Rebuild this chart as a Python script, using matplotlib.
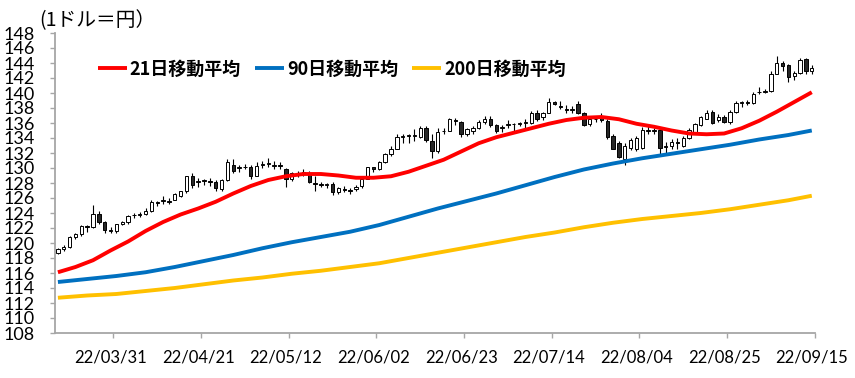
import matplotlib
matplotlib.use("Agg")
import matplotlib.pyplot as plt
from matplotlib.font_manager import FontProperties
import numpy as np
import pandas as pd

# ---------------------------------------------------------------------------
# Data: USD/JPY daily candles
# ---------------------------------------------------------------------------
dates = pd.bdate_range("2022-03-18", "2022-09-15")

opens = [118.7, 119.2, 119.5, 120.8, 121.2, 122.3, 122.1, 123.9, 122.8, 121.6,
         121.6, 122.5, 122.8, 123.7, 123.8, 123.9, 124.3, 125.4, 125.6, 125.6,
         125.8, 126.3, 126.9, 128.9, 128.2, 128.3, 128.3, 128.2, 127.2, 128.4,
         130.4, 130.0, 130.1, 130.2, 129.0, 130.4, 130.6, 130.3, 130.4, 129.8,
         128.5, 129.3, 129.3, 129.4, 128.0, 127.9, 127.8, 127.9, 126.8, 127.2,
         127.1, 127.2, 127.6, 128.6, 130.1, 129.8, 130.8, 131.8, 132.6, 134.2,
         134.3, 134.3, 134.1, 135.3, 133.6, 132.3, 134.9, 135.0, 136.4, 136.2,
         134.6, 134.9, 135.4, 136.1, 136.6, 135.7, 135.4, 135.7, 135.8, 135.9,
         136.0, 136.0, 137.3, 136.8, 137.4, 138.8, 138.3, 137.9, 137.8, 138.5,
         137.3, 135.8, 136.5, 136.7, 136.3, 134.3, 133.3, 131.2, 132.7, 132.6,
         132.7, 135.0, 135.0, 135.1, 132.8, 133.0, 133.4, 133.0, 134.0, 134.8,
         135.7, 136.6, 137.5, 136.4, 136.8, 136.1, 137.5, 138.7, 138.8, 138.7,
         140.1, 140.2, 140.3, 142.6, 144.0, 143.7, 142.3, 142.7, 144.5, 142.9]
highs = [119.4, 119.7, 121.0, 121.4, 122.4, 122.4, 125.1, 124.3, 123.0, 122.2,
         122.6, 123.0, 123.7, 124.0, 124.1, 124.7, 125.8, 125.6, 126.3, 126.0,
         126.7, 127.0, 129.0, 129.4, 128.7, 128.6, 128.7, 128.4, 128.5, 131.2,
         131.2, 130.4, 130.5, 130.4, 130.8, 131.0, 131.3, 130.9, 130.8, 130.0,
         129.5, 129.6, 129.8, 129.6, 128.9, 128.2, 128.0, 128.1, 127.5, 127.6,
         127.3, 127.8, 128.9, 130.2, 130.2, 131.0, 132.0, 132.9, 134.5, 134.6,
         134.6, 135.2, 135.6, 135.6, 134.6, 135.4, 135.4, 136.7, 136.7, 136.3,
         135.4, 135.6, 136.4, 137.0, 137.0, 135.8, 135.7, 136.4, 136.0, 136.2,
         136.6, 137.6, 137.8, 137.5, 139.4, 139.0, 138.9, 138.4, 138.3, 138.9,
         137.5, 136.7, 137.0, 137.4, 136.6, 134.6, 133.6, 133.3, 134.0, 134.3,
         135.5, 135.6, 135.3, 135.3, 133.5, 133.8, 134.0, 134.3, 135.3, 136.0,
         137.0, 137.7, 137.7, 137.2, 137.1, 137.7, 138.9, 138.9, 139.1, 140.2,
         140.8, 140.6, 143.0, 144.9, 144.3, 143.9, 143.0, 144.7, 144.7, 143.8]
lows = [118.5, 119.0, 119.3, 120.6, 121.0, 121.5, 122.0, 122.5, 121.3, 121.3,
        121.3, 122.4, 122.6, 123.4, 123.5, 123.7, 124.2, 124.9, 125.2, 125.2,
        125.7, 126.2, 126.7, 127.4, 127.5, 127.8, 127.6, 126.9, 126.9, 128.3,
        129.3, 129.5, 129.8, 128.6, 128.9, 130.0, 130.2, 129.9, 129.8, 127.5,
        128.3, 128.8, 129.0, 128.0, 127.0, 127.5, 127.3, 126.4, 126.6, 126.8,
        126.6, 127.0, 127.4, 128.5, 129.5, 129.7, 130.7, 131.6, 132.5, 133.3,
        133.4, 133.6, 134.0, 133.5, 131.4, 132.0, 134.5, 134.9, 135.7, 134.2,
        134.3, 134.5, 135.2, 135.9, 135.5, 134.7, 134.8, 135.3, 134.8, 135.6,
        135.4, 135.9, 136.3, 136.4, 137.3, 138.4, 137.9, 137.4, 137.4, 137.2,
        135.6, 135.6, 136.2, 136.2, 133.9, 132.5, 131.3, 130.4, 132.4, 132.3,
        132.5, 134.5, 134.5, 131.9, 131.8, 132.6, 132.6, 132.8, 133.9, 134.6,
        135.6, 136.5, 135.8, 136.2, 136.0, 135.9, 137.3, 138.2, 138.4, 138.6,
        139.9, 140.0, 140.2, 142.5, 142.9, 141.5, 141.8, 142.5, 142.6, 142.6]
closes = [119.2, 119.4, 120.8, 121.2, 122.3, 122.1, 123.9, 122.8, 121.7, 121.7,
          122.5, 122.8, 123.6, 123.8, 123.9, 124.3, 125.4, 125.3, 125.7, 125.5,
          126.5, 126.9, 128.9, 127.7, 128.3, 128.4, 128.2, 127.3, 128.4, 130.8,
          129.6, 130.1, 130.2, 129.0, 130.3, 130.5, 130.7, 130.4, 130.3, 128.5,
          129.3, 129.2, 129.4, 128.2, 127.9, 127.8, 127.9, 126.8, 127.3, 127.1,
          127.0, 127.5, 128.6, 130.1, 129.8, 130.8, 131.8, 132.6, 134.2, 134.3,
          134.4, 134.4, 135.3, 133.7, 132.3, 134.8, 135.0, 136.5, 136.3, 134.6,
          135.2, 135.4, 136.1, 136.6, 135.7, 134.9, 135.5, 135.8, 135.9, 136.0,
          136.1, 137.3, 136.5, 137.3, 138.8, 138.6, 138.2, 137.8, 137.9, 137.3,
          135.7, 136.5, 136.6, 136.4, 134.1, 132.6, 131.5, 133.0, 133.7, 134.0,
          135.1, 135.1, 135.1, 132.7, 132.9, 133.4, 133.3, 134.0, 135.1, 135.9,
          136.8, 137.3, 136.0, 136.8, 136.1, 137.5, 138.7, 138.8, 138.7, 139.9,
          140.2, 140.3, 142.6, 144.0, 143.6, 142.2, 142.7, 144.4, 142.9, 143.4]

# 21-day moving average, read every 3rd session
ma21_idx = [0, 3, 6, 9, 12, 15, 18, 21, 24, 27, 30, 33, 36, 39, 42,
            45, 48, 51, 54, 57, 60, 63, 66, 69, 72, 75, 78, 81, 84, 87,
            90, 93, 96, 99, 102, 105, 108, 111, 114, 117, 120, 123, 126, 129]
ma21 = [116.1, 116.8, 117.7, 119.0, 120.2, 121.6, 122.8, 123.8, 124.6, 125.5,
        126.6, 127.6, 128.4, 128.9, 129.2, 129.2, 129.0, 128.7, 128.7, 128.9,
        129.5, 130.3, 131.1, 132.2, 133.3, 134.1, 134.7, 135.3, 135.9, 136.4,
        136.7, 136.8, 136.5, 135.9, 135.5, 135.0, 134.6, 134.5, 134.6, 135.3,
        136.3, 137.5, 138.8, 140.1]

# 90- and 200-day moving averages, read every 5th session
ma_idx = [0, 5, 10, 15, 20, 25, 30, 35, 40, 45, 50, 55, 60, 65,
          70, 75, 80, 85, 90, 95, 100, 105, 110, 115, 120, 125, 129]
ma90 = [114.8, 115.2, 115.6, 116.1, 116.8, 117.6, 118.4, 119.3, 120.1, 120.8,
        121.5, 122.4, 123.5, 124.6, 125.6, 126.6, 127.7, 128.8, 129.8, 130.6,
        131.3, 131.9, 132.5, 133.1, 133.8, 134.4, 135.0]
ma200 = [112.7, 113.0, 113.2, 113.6, 114.0, 114.5, 115.0, 115.4, 115.9, 116.3,
         116.8, 117.3, 118.0, 118.7, 119.4, 120.1, 120.8, 121.4, 122.1, 122.7,
         123.2, 123.6, 124.0, 124.5, 125.1, 125.7, 126.3]

label_idx = [9, 24, 39, 54, 69, 84, 99, 114, 129]

JP = ["Noto Sans CJK JP", "DejaVu Sans"]
NUM = ["Lato", "DejaVu Sans"]
GRAY = "#A6A6A6"

fig = plt.figure(figsize=(8.55, 3.78), dpi=100)
ax = fig.add_axes((55 / 855, 45 / 378, 759.7 / 855, 300 / 378))

# --- candles ---
x = np.arange(len(closes))
o = np.array(opens)
c = np.array(closes)
up = c >= o
body_lo = np.minimum(o, c)
body_h = np.maximum(np.abs(c - o), 0.04)
ax.vlines(x, lows, highs, color="black", lw=0.8, zorder=2)
ax.bar(x, body_h, bottom=body_lo, width=0.58,
       color=np.where(up, "white", "#262626"), edgecolor="black",
       linewidth=0.7, zorder=3)

# --- moving averages ---
line_kw = dict(lw=2.8, zorder=4, solid_joinstyle="round", solid_capstyle="butt")
ax.plot(ma21_idx, ma21, color="#FF0000", label="21日移動平均", **line_kw)
ax.plot(ma_idx, ma90, color="#0070C0", label="90日移動平均", **line_kw)
ax.plot(ma_idx, ma200, color="#FFC000", label="200日移動平均", **line_kw)

ax.set_xlim(-0.5, len(closes) - 0.5)
ax.set_ylim(108, 148)

ax.set_yticks(np.arange(108, 149, 2))
ax.set_yticklabels([str(v) for v in range(108, 149, 2)], family=NUM, fontsize=13)
ax.tick_params(axis="y", direction="out", length=3.8, width=1, color=GRAY, pad=11)

ax.set_xticks(label_idx)
ax.set_xticklabels([dates[i].strftime("%y/%m/%d") for i in label_idx],
                   family=NUM, fontsize=12)
ax.set_xticks(np.array(label_idx) + 0.5, minor=True)
ax.tick_params(axis="x", which="major", length=0, pad=12)
ax.tick_params(axis="x", which="minor", direction="out", length=3.8, width=1, color=GRAY)

for s in ("top", "right"):
    ax.spines[s].set_visible(False)
for s in ("left", "bottom"):
    ax.spines[s].set_color(GRAY)
    ax.spines[s].set_linewidth(1.3)

ax.legend(ncol=3, loc="center left",
          bbox_to_anchor=((98 - 55) / 759.7, (333 - 69) / 300),
          frameon=False, borderpad=0, borderaxespad=0,
          handlelength=1.6, handletextpad=0.15, columnspacing=0.8,
          prop=FontProperties(family=JP, weight="bold", size=13))

fig.text(39 / 855, 1 - 21 / 378, "(1ドル＝円）", family=JP, fontsize=14.2,
         ha="left", va="center")

fig.savefig("out.png", dpi=100)
